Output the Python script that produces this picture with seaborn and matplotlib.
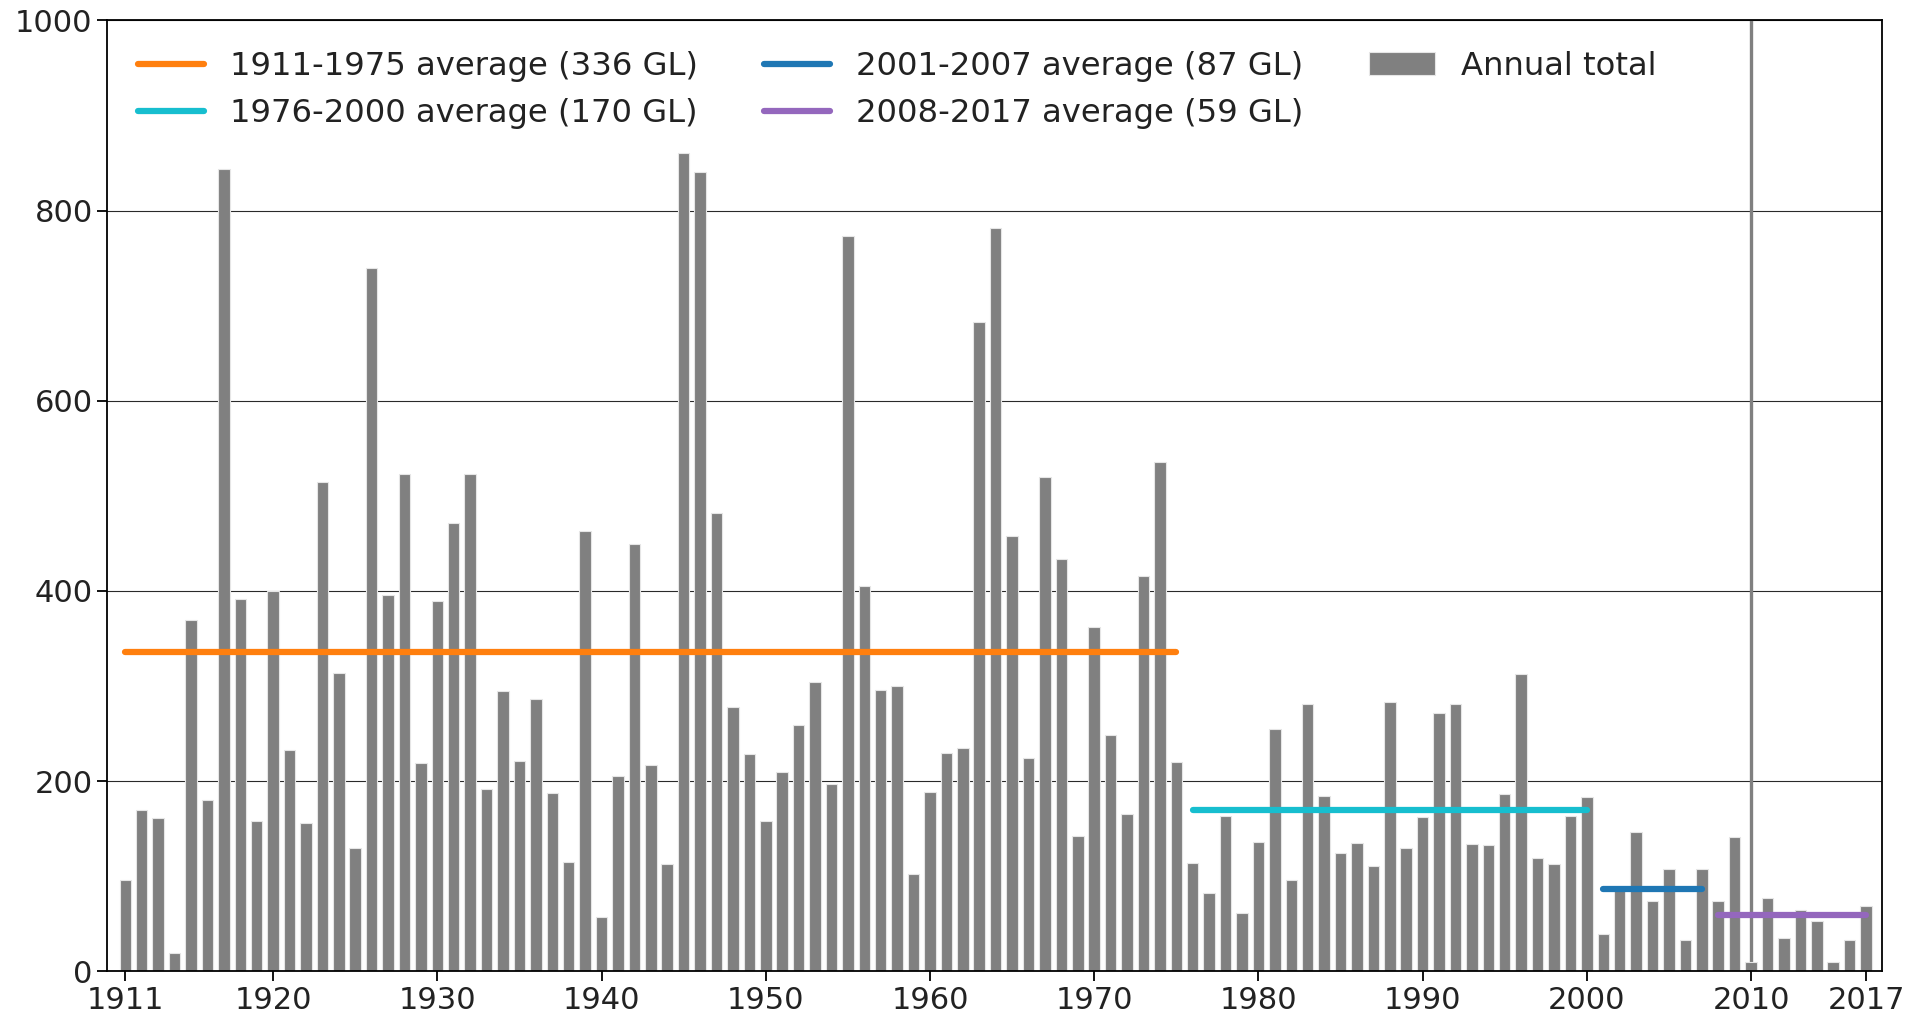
import matplotlib
matplotlib.use("Agg")
import matplotlib.pyplot as plt
import seaborn as sns
import pandas as pd

years = list(range(1911, 2018))
annual_total = [
    96, 170, 161, 19, 369, 180, 844, 391, 158, 400,          # 1911-1920
    233, 156, 515, 314, 130, 740, 396, 523, 219, 389,        # 1921-1930
    471, 523, 192, 295, 221, 286, 187, 115, 463, 57,         # 1931-1940
    205, 449, 217, 113, 860, 841, 482, 278, 228, 158,        # 1941-1950
    210, 259, 304, 197, 773, 405, 296, 300, 102, 188,        # 1951-1960
    229, 235, 683, 782, 458, 224, 520, 434, 142, 362,        # 1961-1970
    248, 165, 416, 536, 220, 114, 82, 163, 61, 136,          # 1971-1980
    255, 96, 281, 184, 124, 135, 111, 283, 130, 162,         # 1981-1990
    272, 281, 134, 133, 186, 313, 119, 113, 163, 183,        # 1991-2000
    39, 86, 146, 74, 108, 33, 108, 74, 141, 10,              # 2001-2010
    77, 35, 64, 53, 10, 33, 69,                              # 2011-2017
]

period_starts = [1911, 1976, 2001, 2008]
period_ends = [1975, 2000, 2007, 2017]
period_means = [336, 170, 87, 59]
period_labels = [
    "1911-1975 average (336 GL)",
    "1976-2000 average (170 GL)",
    "2001-2007 average (87 GL)",
    "2008-2017 average (59 GL)",
]
period_colors = ["#ff7f0e", "#17becf", "#1f77b4", "#9467bd"]

xtick_values = [1911, 1920, 1930, 1940, 1950, 1960, 1970, 1980, 1990, 2000, 2010, 2017]
ytick_values = [0, 200, 400, 600, 800, 1000]
marker_year = 2010

sns.set_theme(style="ticks")
plt.rcParams["font.family"] = ["DejaVu Sans"]

fig = plt.figure(figsize=(19.15, 10.17), dpi=100)
ax = fig.add_axes([0.056, 0.045, 0.927, 0.935])

df = pd.DataFrame({"year": years, "total": annual_total})

ax.set_axisbelow(True)
ax.yaxis.grid(True, color="#2a2a2a", linewidth=0.8)
ax.xaxis.grid(False)

ax.axvline(marker_year, color="#808080", linewidth=2.4, zorder=1)

sns.barplot(data=df, x="year", y="total", native_scale=True, color="#808080",
            saturation=1, width=0.7, edgecolor="#e6e6e6", linewidth=0.8,
            label="Annual total", ax=ax, zorder=2)

for s, e, m, lab, col in zip(period_starts, period_ends, period_means, period_labels, period_colors):
    pdf = pd.DataFrame({"x": [s, e], "y": [m, m]})
    sns.lineplot(data=pdf, x="x", y="y", color=col, linewidth=4.5, ax=ax,
                 label=lab, solid_capstyle="round", zorder=3)

ax.set_xlim(1909.9, 2018.0)
ax.set_ylim(0, 1000)
ax.set_xticks(xtick_values)
ax.set_xticklabels([str(v) for v in xtick_values])
ax.set_yticks(ytick_values)
ax.set_xlabel("")
ax.set_ylabel("")

for sp in ax.spines.values():
    sp.set_visible(True)
    sp.set_color("black")
    sp.set_linewidth(1.3)

ax.tick_params(axis="both", labelsize=22, length=7, width=1.3, colors="black",
               labelcolor="#222222", direction="out")
ax.tick_params(top=False, right=False)

handles, labels = ax.get_legend_handles_labels()
order = [labels.index(l) for l in period_labels] + [labels.index("Annual total")]
leg = ax.legend([handles[i] for i in order], [labels[i] for i in order],
                loc="upper left", ncol=3, frameon=False, fontsize=23.2,
                handlelength=2.05, handletextpad=0.8, columnspacing=2.05,
                labelspacing=0.5, borderaxespad=0.55)
for t in leg.get_texts():
    t.set_color("#222222")

fig.savefig("out.png", dpi=100)
